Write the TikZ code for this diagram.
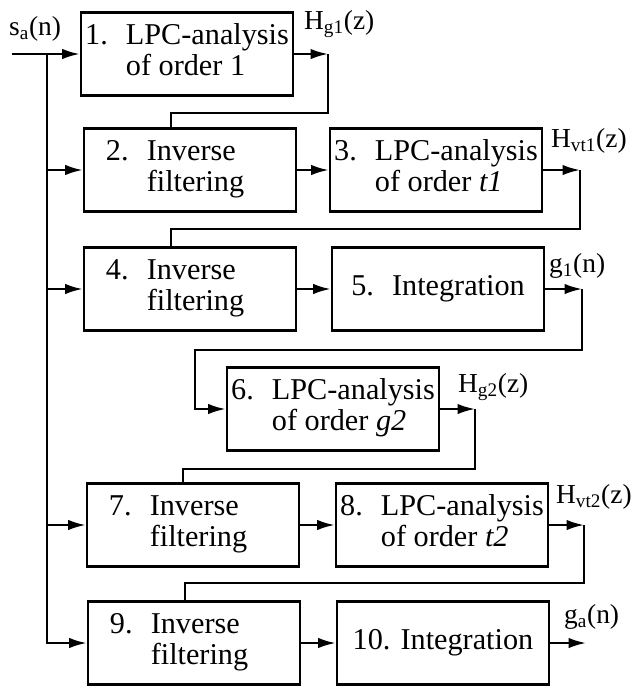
\documentclass[tikz,border=0pt]{standalone}
\usepackage{fontspec}
\setmainfont{Liberation Serif}
\usetikzlibrary{arrows.meta}

\tikzset{
  blk/.style={draw, line width=1.7pt, minimum width=5.3cm, minimum height=2.07cm,
    inner sep=0pt, font=\fontsize{21.5}{22}\selectfont},
  inv/.style={blk, text width=4.2cm, align=left},
  sig/.style={anchor=base west, inner sep=0pt, font=\fontsize{19.5}{21}\selectfont},
}
% number in front, the two text lines aligned after it
\newcommand{\stage}[3]{\begin{tabular}{@{}l@{\hspace{.6em}}l@{}}#1&#2\\&#3\end{tabular}}

\begin{document}
\begin{tikzpicture}[x=0.025cm, y=-0.025cm, line width=1.7pt,
    >={Latex[length=0.44cm,width=0.26cm]}]
\useasboundingbox (0,0) rectangle (639,687);

% blocks
\node[blk] (b1) at (187,54) {\stage{1.}{LPC-analysis}{of order 1}};
\node[inv] (b2) at (190,170) {\stage{2.}{Inverse}{filtering}};
\node[blk] (b3) at (436,170) {\stage{3.}{LPC-analysis}{of order \textit{t1}}};
\node[inv] (b4) at (190,289) {\stage{4.}{Inverse}{filtering}};
\node[blk] (b5) at (438,289) {5.\hspace{.6em}Integration};
\node[blk] (b6) at (333,409) {\stage{6.}{LPC-analysis}{of order \textit{g2}}};
\node[inv] (b7) at (193,525) {\stage{7.}{Inverse}{filtering}};
\node[blk] (b8) at (442,525) {\stage{8.}{LPC-analysis}{of order \textit{t2}}};
\node[inv] (b9) at (194,643) {\stage{9.}{Inverse}{filtering}};
\node[blk] (b10) at (443,643) {10. Integration};

% signal names
\node[sig] (sa) at (8,35) {s\textsubscript{a}(n)};
\node[sig] (hg1) at (303,29) {H\textsubscript{g1}(z)};
\node[sig] (hvt1) at (550,147) {H\textsubscript{vt1}(z)};
\node[sig] (g1) at (548,272) {g\textsubscript{1}(n)};
\node[sig] (hg2) at (457,392) {H\textsubscript{g2}(z)};
\node[sig] (hvt2) at (555,503) {H\textsubscript{vt2}(z)};
\node[sig] (ga) at (563,623) {g\textsubscript{a}(n)};

% input and the bus down the left side
\coordinate (in) at (12,54);
\coordinate (bus) at (47,54);
\draw[->] (in) -- (b1.west);
\draw[->] (bus) |- (b9.west);
\foreach \b in {b2,b4,b7}
    \draw[->] (bus |- \b.west) -- (\b.west);

% forward links
\draw[->] (b2.east) -- (b3.west);
\draw[->] (b4.east) -- (b5.west);
\draw[->] (b7.east) -- (b8.west);
\draw[->] (b9.east) -- (b10.west);

% results fed back to the next stage
\coordinate (k1) at (171,113);
\coordinate (k3) at (171,229);
\coordinate (k5) at (195,350);
\coordinate (k6) at (183,469);
\coordinate (k8) at (185,583);

\draw[->] (b1.east) -- ++(34,0) coordinate (o1);
\draw (o1) |- (k1) -- (k1 |- b2.north);
\draw[->] (b3.east) -- ++(37,0) coordinate (o3);
\draw (o3) |- (k3) -- (k3 |- b4.north);
\draw[->] (b5.east) -- ++(37,0) coordinate (o5);
\draw[->] (o5) |- (k5) |- (b6.west);
\draw[->] (b6.east) -- ++(35,0) coordinate (o6);
\draw (o6) |- (k6) -- (k6 |- b7.north);
\draw[->] (b8.east) -- ++(35,0) coordinate (o8);
\draw (o8) |- (k8) -- (k8 |- b9.north);
\draw[->] (b10.east) -- ++(36,0) coordinate (o10);
\end{tikzpicture}
\end{document}
